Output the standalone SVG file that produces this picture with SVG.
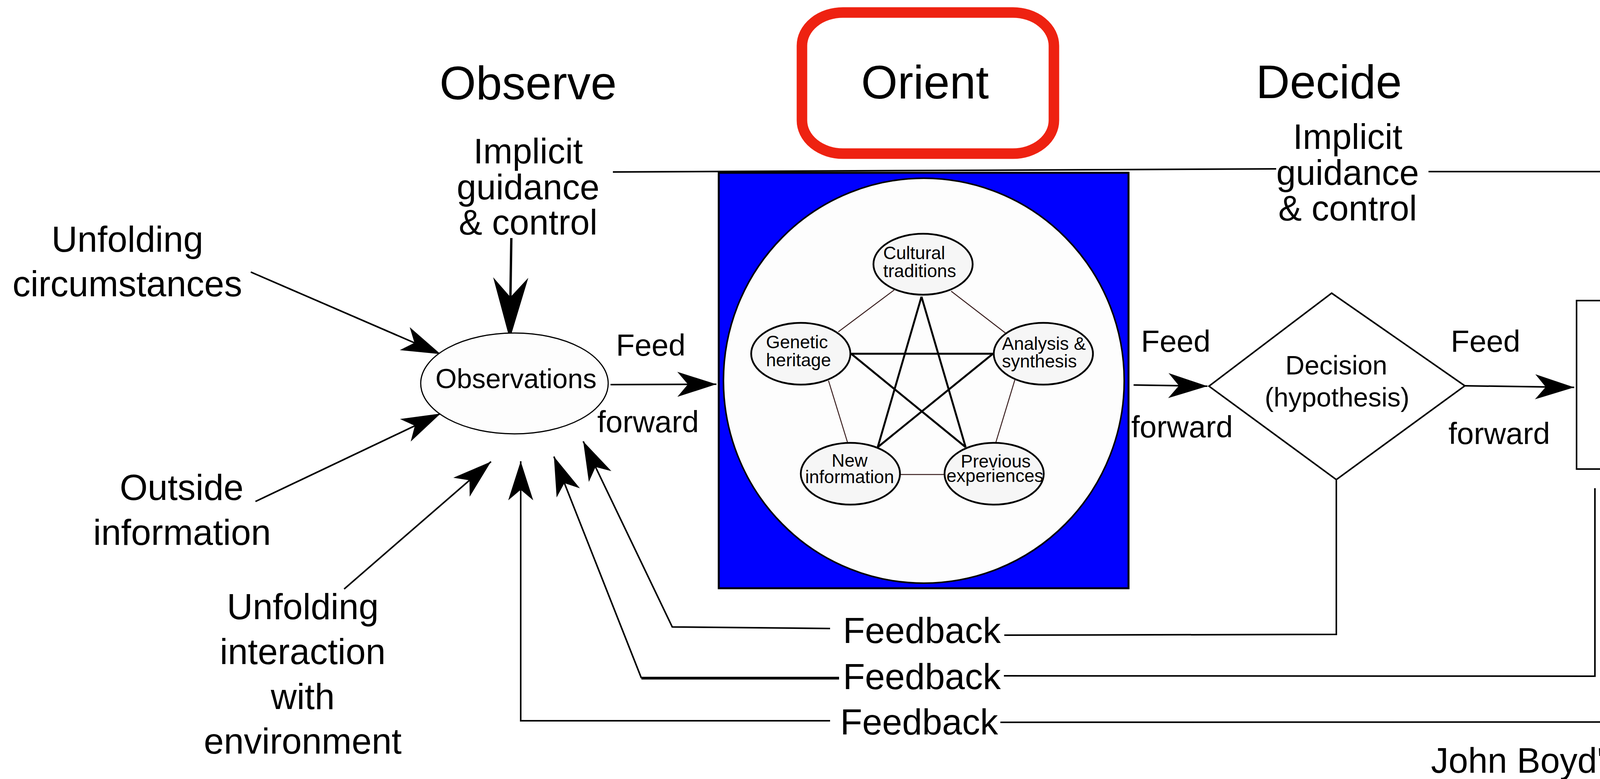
<svg xmlns="http://www.w3.org/2000/svg" width="4728" height="1993" viewBox="0 0 4728 1993">
<style>
text{font-family:"Liberation Sans",Arial,sans-serif;fill:#000}
.t{font-size:120px;text-anchor:middle}
.l{font-size:92px;text-anchor:middle}
.g{font-size:90px;text-anchor:middle}
.ff{font-size:78px;text-anchor:middle}
.s{font-size:46px}
.c{text-anchor:middle}
.ln{fill:none;stroke:#000;stroke-width:4}
.thin{fill:none;stroke:#3a1f1f;stroke-width:2.5}
.star{fill:none;stroke:#000;stroke-width:5}
.inner{fill:#f6f6f6;stroke:#000;stroke-width:4.5}
</style>
<defs>
<marker id="ah" markerUnits="userSpaceOnUse" viewBox="-102 -34 104 68" refX="0" refY="0" markerWidth="104" markerHeight="68" orient="auto" overflow="visible">
<path d="M0,0 L-100,-32 L-73,0 L-100,32 Z" fill="#000"/>
</marker>
<marker id="big" markerUnits="userSpaceOnUse" viewBox="-160 -47 162 94" refX="0" refY="0" markerWidth="162" markerHeight="94" orient="auto" overflow="visible">
<path d="M0,0 L-158,-45 L-108,0 L-158,45 Z" fill="#000"/>
</marker>
</defs>
<rect width="4728" height="1993" fill="#fff"/>

<g id="titles">
<text class="t" x="1352" y="254">Observe</text>
<text class="t" x="3402" y="251">Decide</text>
<text class="t" x="4232" y="258">Act</text>
</g>

<g id="orient-title">
<rect x="2053" y="32" width="645" height="361" rx="105" ry="85" fill="#fff" stroke="#ee2211" stroke-width="27"/>
<text class="t" x="2368" y="252">Orient</text>
</g>

<g id="orient">
<rect x="1840" y="442" width="1049" height="1063" fill="#0000ff" stroke="#000" stroke-width="5"/>
<ellipse cx="2365" cy="974" rx="513" ry="518" fill="#fdfdfd" stroke="#000" stroke-width="4"/>
</g>

<g id="connectors">
<path class="ln" d="M1569,440 L3267,432"/>
<path class="ln" d="M3657,439 L4224,439 L4224,763" marker-end="url(#ah)"/>
<path d="M1309,609 L1305,868" fill="none" stroke="#000" stroke-width="6" marker-end="url(#big)"/>
<path class="ln" d="M642,696 L1128,906" marker-end="url(#ah)"/>
<path class="ln" d="M654,1283 L1128,1058" marker-end="url(#ah)"/>
<path class="ln" d="M881,1507 L1257,1181" marker-end="url(#ah)"/>
<path class="ln" d="M1563,984 L1834,983" marker-end="url(#ah)"/>
<path class="ln" d="M2902,985 L3091,988" marker-end="url(#ah)"/>
<path class="ln" d="M3750,987 L4030,991" marker-end="url(#ah)"/>
<path class="ln" d="M3421,1227 L3421,1623 L2571,1625"/>
<path class="ln" d="M2125,1608 L1721,1604 L1493,1129" marker-end="url(#ah)"/>
<path class="ln" d="M4083,1249 L4083,1730 L2570,1729"/>
<path d="M2148,1735 L1642,1735" fill="none" stroke="#000" stroke-width="7"/>
<path class="ln" d="M1642,1735 L1418,1168" marker-end="url(#ah)"/>
<path class="ln" d="M4405,1201 L4405,1413"/>
<path class="ln" d="M4405,1776 L4405,1847 L2561,1848"/>
<path class="ln" d="M2125,1844 L1333,1844 L1333,1180" marker-end="url(#ah)"/>
<path class="thin" d="M2289,742 L2146,849"/>
<path class="thin" d="M2435,745 L2574,852"/>
<path class="thin" d="M2121,974 L2170,1133"/>
<path class="thin" d="M2598,972 L2549,1133"/>
<path class="thin" d="M2305,1214 L2417,1214"/>
<path class="star" d="M2359,759 L2247,1144"/>
<path class="star" d="M2359,759 L2472,1144"/>
<path class="star" d="M2179,905 L2544,905"/>
<path class="star" d="M2179,905 L2472,1144"/>
<path class="star" d="M2542,905 L2247,1144"/>
</g>

<g id="labels">
<text class="l" x="326" y="644">Unfolding</text>
<text class="l" x="326" y="758">circumstances</text>
<text class="l" x="465" y="1279">Outside</text>
<text class="l" x="466" y="1394">information</text>
<text class="l" x="775" y="1584">Unfolding</text>
<text class="l" x="775" y="1699">interaction</text>
<text class="l" x="775" y="1814">with</text>
<text class="l" x="775" y="1928">environment</text>
<text class="g" x="1352" y="418">Implicit</text>
<text class="g" x="1352" y="510">guidance</text>
<text class="g" x="1352" y="600">&amp; control</text>
<text class="g" x="3450" y="381">Implicit</text>
<text class="g" x="3450" y="473">guidance</text>
<text class="g" x="3450" y="564">&amp; control</text>
<text class="ff" x="1666" y="910">Feed</text>
<text class="ff" x="1659" y="1106">forward</text>
<text class="ff" x="3010" y="900">Feed</text>
<text class="ff" x="3026" y="1119">forward</text>
<text class="ff" x="3803" y="900">Feed</text>
<text class="ff" x="3838" y="1136">forward</text>
<text class="l" x="2360" y="1645">Feedback</text>
<text class="l" x="2360" y="1763">Feedback</text>
<text class="l" x="2353" y="1879">Feedback</text>
<text class="l" x="4412" y="1486">Unfolding</text>
<text class="l" x="4412" y="1578">interaction</text>
<text class="l" x="4412" y="1670">with</text>
<text class="l" x="4412" y="1763">environment</text>
<text class="g" x="4147" y="1977">John Boyd's OODA loop</text>
</g>

<g id="observations">
<ellipse cx="1317" cy="981" rx="240" ry="129" fill="#fdfdfd" stroke="#000" stroke-width="3"/>
<text x="1321" y="993" font-size="70" text-anchor="middle">Observations</text>
</g>

<g id="cultural-traditions">
<ellipse class="inner" cx="2363" cy="676" rx="127" ry="78"/>
<text class="s" x="2261" y="663">Cultural</text>
<text class="s" x="2261" y="709">traditions</text>
</g>
<g id="genetic-heritage">
<ellipse class="inner" cx="2050" cy="905" rx="127" ry="79"/>
<text class="s" x="1961" y="891">Genetic</text>
<text class="s" x="1961" y="937">heritage</text>
</g>
<g id="analysis-synthesis">
<ellipse class="inner" cx="2671" cy="905" rx="127" ry="79"/>
<text class="s" x="2565" y="895">Analysis &amp;</text>
<text class="s" x="2565" y="940">synthesis</text>
</g>
<g id="new-information">
<ellipse class="inner" cx="2177" cy="1212" rx="127" ry="79"/>
<text class="s c" x="2175" y="1194">New</text>
<text class="s c" x="2175" y="1236">information</text>
</g>
<g id="previous-experiences">
<ellipse class="inner" cx="2545" cy="1212" rx="127" ry="79"/>
<text class="s c" x="2549" y="1196">Previous</text>
<text class="s c" x="2547" y="1233">experiences</text>
</g>

<g id="decision">
<path d="M3409,750 L3750,987 L3421,1227 L3095,988 Z" fill="#fff" stroke="#000" stroke-width="4"/>
<text x="3421" y="958" font-size="68" text-anchor="middle">Decision</text>
<text x="3423" y="1040" font-size="68" text-anchor="middle">(hypothesis)</text>
</g>

<g id="action">
<rect x="4036" y="769" width="434" height="431" fill="#fff" stroke="#000" stroke-width="4"/>
<text x="4248" y="959" font-size="88" text-anchor="middle">Action</text>
<text x="4248" y="1049" font-size="88" text-anchor="middle">(test)</text>
</g>
</svg>
